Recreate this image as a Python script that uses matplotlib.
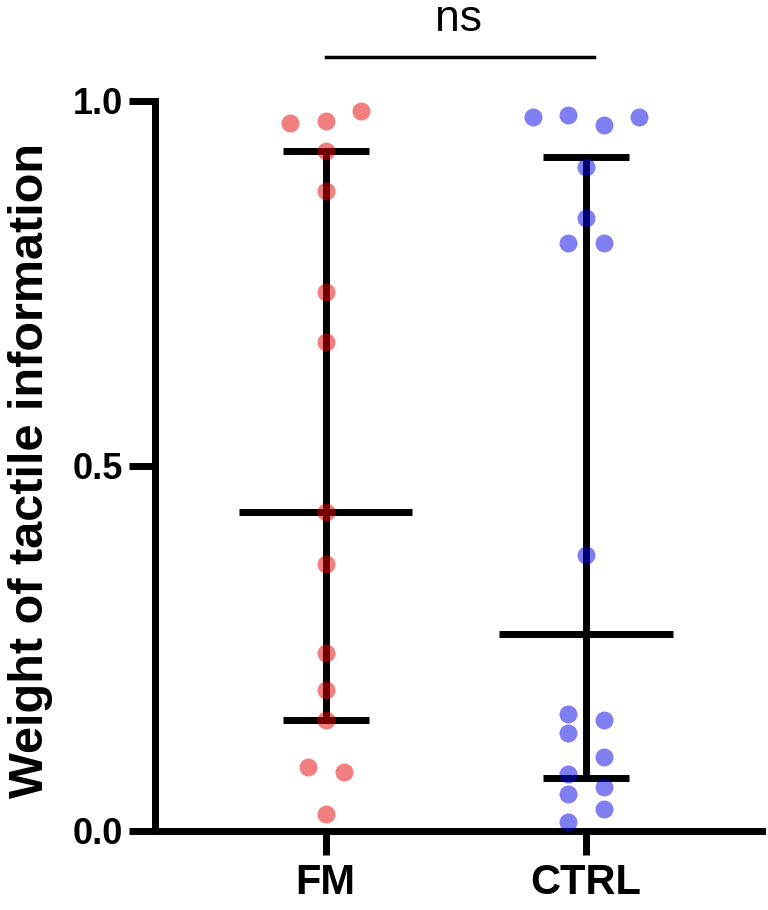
import numpy as np
import matplotlib
matplotlib.use('Agg')
import matplotlib.pyplot as plt

matplotlib.rcParams['font.family'] = ['Liberation Sans', 'DejaVu Sans']

groups = ['FM', 'CTRL']
colors = ['#E60000', '#0000E6']

fm_vals = [0.970, 0.973, 0.986, 0.932, 0.876, 0.738, 0.670, 0.436,
           0.365, 0.243, 0.192, 0.151, 0.087, 0.080, 0.023]
fm_offsets = [-0.137, 0.0, 0.137, 0.0, 0.0, 0.0, 0.0, 0.0,
              0.0, 0.0, 0.0, 0.0, -0.068, 0.069, 0.0]

ctrl_vals = [0.978, 0.981, 0.967, 0.978, 0.909, 0.839, 0.805, 0.805,
             0.378, 0.160, 0.152, 0.133, 0.101, 0.077, 0.059, 0.050,
             0.029, 0.012]
ctrl_offsets = [-0.205, -0.068, 0.068, 0.203, 0.0, 0.0, -0.068, 0.068,
                0.0, -0.068, 0.068, -0.068, 0.068, -0.068, 0.068, -0.068,
                0.068, -0.068]

values = [fm_vals, ctrl_vals]
offsets = [fm_offsets, ctrl_offsets]

fig = plt.figure(figsize=(7.68, 9.10), dpi=100)
ax = fig.add_axes([155 / 768, 1 - 830.5 / 910, (762 - 155) / 768, (830.5 - 101) / 910])

for i, (v, off, c) in enumerate(zip(values, offsets, colors)):
    v = np.array(v)
    q1, med, q3 = np.percentile(v, [25, 50, 75], method='weibull')
    # median + interquartile range, Prism style
    ax.plot([i, i], [q1, q3], color='black', lw=5, solid_capstyle='butt', zorder=2)
    ax.plot([i - 0.333, i + 0.333], [med, med], color='black', lw=5, solid_capstyle='butt', zorder=2)
    ax.plot([i - 0.165, i + 0.165], [q1, q1], color='black', lw=5, solid_capstyle='butt', zorder=2)
    ax.plot([i - 0.165, i + 0.165], [q3, q3], color='black', lw=5, solid_capstyle='butt', zorder=2)
    ax.scatter(i + np.array(off), v, s=168, color=c, alpha=0.5, linewidths=0,
               zorder=5, clip_on=False)

# significance bar
ax.plot([0, 1.03], [1.06, 1.06], color='black', lw=2.5, clip_on=False)
ax.text(0.512, 1.0964, 'ns', ha='center', va='baseline', fontsize=32, clip_on=False)

ax.set_xlim(-0.655, 1.676)
ax.set_ylim(0, 1)
ax.set_xticks([0, 1])
ax.set_xticklabels(groups, fontsize=30, fontweight='bold')
ax.set_yticks([0, 0.5, 1.0])
ax.set_yticklabels(['0.0', '0.5', '1.0'], fontsize=26, fontweight='bold')
ax.tick_params(axis='y', length=19, width=5, pad=4)
ax.tick_params(axis='x', length=17.5, width=5, pad=6)

for s in ['top', 'right']:
    ax.spines[s].set_visible(False)
for s in ['left', 'bottom']:
    ax.spines[s].set_linewidth(5)

fig.text(31 / 768, 1 - 470.5 / 910, 'Weight of tactile information', rotation=90,
         ha='center', va='center', fontsize=35, fontweight='bold')

fig.savefig('out.png', dpi=100)
